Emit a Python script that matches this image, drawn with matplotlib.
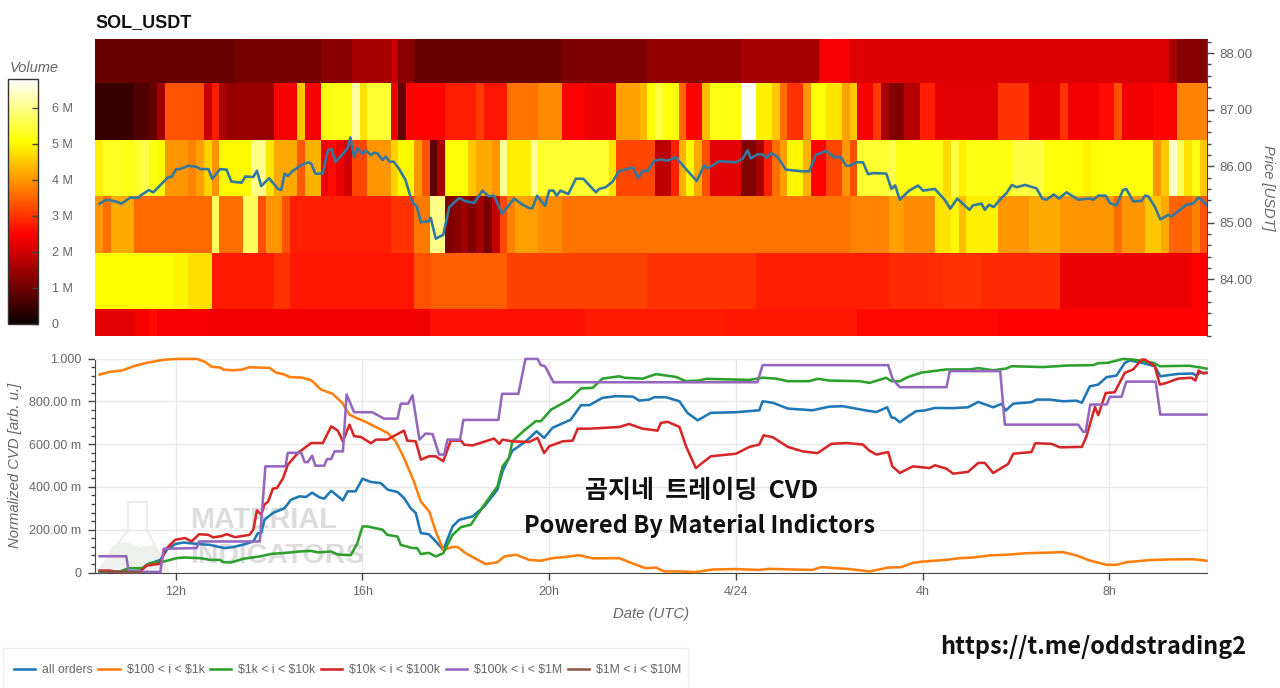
import numpy as np
import matplotlib
matplotlib.use('Agg')
import matplotlib.pyplot as plt
from matplotlib.lines import Line2D
from matplotlib.patches import Polygon, Rectangle
from matplotlib.ticker import MultipleLocator

W, H = 1280, 688

# heatmap: volume per 10 min bin, stored as runs (bin count, volume in M) per price band
BIN_START = 10.27
BIN_HOURS = 1 / 6
N_BINS = 143
PRICE_EDGES = [83.0, 83.47, 84.47, 85.47, 86.47, 87.47, 88.25]

band_83_runs = [5, 2, 1, 7, 28, 20, 18, 17, 18, 27]
band_83_vol = [2.2, 2.4, 2.6, 2.4, 2.35, 2.65, 2.75, 2.7, 2.55, 2.5]

band_84_runs = [10, 2, 3, 8, 2, 16, 2, 10, 18, 14, 17, 7, 5, 10, 17, 2]
band_84_vol = [5.05, 4.95, 4.75, 2.75, 3.0, 2.7, 3.3, 3.45, 3.15, 3.0, 2.8, 2.9, 3.0, 2.9, 2.3, 2.45]

band_85_runs = [1, 1, 3, 10, 1, 3, 2, 1, 2, 1, 13, 3, 2, 2, 1, 1, 1, 1, 1, 1, 1, 1, 1, 3, 3, 37,
                5, 2, 4, 2, 1, 1, 4, 4, 4, 7, 1, 3, 2, 1, 3, 1, 1]
band_85_vol = [4.0, 3.6, 4.2, 3.55, 5.7, 3.6, 5.7, 3.3, 4.0, 3.3, 2.8, 3.0, 3.7, 6.0, 1.2, 1.3, 1.5, 1.2, 1.5, 1.1,
               1.9, 3.2, 3.8, 4.1, 3.9, 3.65, 3.8, 4.1, 3.9, 4.8, 5.0, 4.4, 4.9, 4.0, 4.2, 4.0, 3.6, 4.0, 4.5, 4.2,
               3.5, 3.8, 3.3]

band_86_runs = [1, 3, 1, 1, 1, 1, 1,
                3, 1, 1, 1, 1,
                4, 2, 1, 3, 1, 2,
                1, 1, 1, 1, 2, 3, 1, 2, 1, 1,
                1, 1, 3, 1, 2, 1, 1, 3, 1, 9, 1,
                5, 2, 1, 1, 1, 1, 1, 4, 2, 1, 1, 1, 1, 2, 1, 2, 2, 1, 1,
                4, 1, 6, 1, 1, 1, 6, 4, 5, 1, 8,
                1, 1, 1, 1, 1, 1, 1]
band_86_vol = [4.9, 5.3, 5.2, 5.4, 5.6, 5.2, 5.0,
               4.0, 3.8, 4.1, 4.6, 4.0,
               5.0, 6.0, 4.8, 4.2, 3.4, 4.3,
               2.3, 2.6, 2.3, 2.0, 3.2, 4.0, 4.6, 5.0, 4.0, 3.3,
               0.9, 1.6, 5.1, 4.5, 4.2, 4.0, 6.1, 4.9, 6.1, 5.4, 4.8,
               3.2, 1.8, 2.8, 4.3, 5.0, 4.2, 3.3, 2.2, 1.2, 1.6, 2.8, 3.6, 4.1, 5.0, 4.3, 2.5, 3.2, 4.0, 3.3,
               5.4, 5.6, 5.2, 4.7, 5.5, 4.9, 5.2, 5.5, 5.1, 4.9, 5.1,
               4.0, 4.5, 6.4, 5.7, 4.8, 5.2, 4.5]

band_87_runs = [5, 2, 1, 1, 5, 1, 1, 1, 6, 3, 1, 2, 4, 1, 1, 3, 1, 1, 5, 4, 1, 3, 4, 3, 3, 4, 3, 1, 1, 1, 2, 1, 2,
                1, 4, 2, 2, 1, 1, 2, 1, 2, 2, 1, 1, 2, 1, 1, 2, 2, 2, 8, 4, 4, 1, 4, 2, 1, 4, 3, 4]
band_87_vol = [0.5, 0.7, 0.95, 1.5, 3.3, 1.95, 2.8, 1.6, 1.45, 2.4, 4.5, 2.4, 5.2, 6.2, 4.8, 5.4, 2.3, 0.95, 2.5, 2.8,
               3.1, 2.7, 3.65, 3.9, 2.45, 2.3, 4.1, 4.35, 5.1, 5.5, 5.1, 3.5, 2.5, 4.4, 5.2, 6.8, 4.9, 4.5, 3.6, 3.0,
               4.0, 5.1, 4.8, 4.1, 4.5, 2.4, 3.1, 1.6, 1.2, 1.75, 2.8, 2.2, 3.0, 2.25, 3.0, 2.35, 2.6, 3.3, 2.35, 2.5, 3.8]

band_88_runs = [18, 11, 4, 5, 1, 2, 19, 11, 12, 10, 4, 41, 1, 4]
band_88_vol = [0.95, 1.1, 1.3, 1.6, 1.9, 1.3, 0.97, 1.15, 1.4, 1.6, 2.4, 2.15, 1.6, 1.25]

# price line
price_t = [10.37, 10.52, 10.7, 10.84, 11.03, 11.17, 11.42, 11.52, 11.84, 11.91, 12.01, 12.09, 12.27, 12.45, 12.52,
           12.7, 12.78, 12.95, 13.09, 13.19, 13.41, 13.49, 13.66, 13.74, 13.83, 14.0, 14.19, 14.26, 14.33, 14.4,
           14.51, 14.69, 14.83, 14.9, 14.99, 15.15, 15.26, 15.34, 15.42, 15.58, 15.68, 15.74, 15.82, 15.89, 16.0,
           16.07, 16.18, 16.25, 16.32, 16.43, 16.5, 16.58, 16.67, 16.78, 16.92, 17.07, 17.16, 17.25, 17.42, 17.46,
           17.57, 17.73, 17.86, 18.07, 18.18, 18.39, 18.57, 18.7, 18.82, 18.99, 19.25, 19.43, 19.57, 19.64, 19.74,
           19.91, 20.0, 20.09, 20.16, 20.24, 20.41, 20.57, 20.73, 21.0, 21.07, 21.21, 21.36, 21.49, 21.79, 21.91,
           22.0, 22.11, 22.25, 22.39, 22.54, 22.71, 22.93, 23.16, 23.32, 23.39, 23.64, 24.0, 24.14, 24.25, 24.32,
           24.46, 24.57, 24.66, 24.75, 24.89, 25.07, 25.43, 25.57, 25.71, 25.93, 26.11, 26.25, 26.36, 26.44, 26.58,
           26.72, 26.83, 26.94, 27.22, 27.33, 27.41, 27.51, 27.71, 27.9, 28.01, 28.26, 28.47, 28.59, 28.74, 29.0,
           29.08, 29.26, 29.33, 29.42, 29.52, 29.69, 29.79, 29.91, 30.01, 30.19, 30.44, 30.56, 30.65, 30.81, 30.92,
           31.08, 31.33, 31.58, 31.66, 31.76, 31.92, 32.01, 32.15, 32.29, 32.36, 32.51, 32.69, 32.76, 32.83, 32.97,
           33.09, 33.26, 33.33, 33.51, 33.65, 33.79, 33.91, 34.08]
price_v = [85.34, 85.41, 85.38, 85.34, 85.45, 85.44, 85.58, 85.54, 85.81, 85.81, 85.95, 85.95, 86.01, 85.99, 85.95,
           85.95, 85.78, 85.95, 85.94, 85.73, 85.71, 85.82, 85.81, 85.92, 85.65, 85.79, 85.6, 85.58, 85.87, 85.83,
           85.92, 86.02, 86.07, 86.05, 85.87, 85.87, 86.29, 86.3, 86.08, 86.22, 86.32, 86.51, 86.17, 86.32, 86.22,
           86.28, 86.2, 86.24, 86.23, 86.11, 86.17, 86.08, 86.08, 85.96, 85.76, 85.35, 85.3, 85.01, 85.03, 85.09,
           84.72, 84.79, 85.28, 85.44, 85.39, 85.35, 85.57, 85.47, 85.48, 85.16, 85.43, 85.32, 85.26, 85.26, 85.48,
           85.3, 85.57, 85.57, 85.48, 85.57, 85.51, 85.78, 85.78, 85.54, 85.6, 85.63, 85.73, 85.91, 85.98, 85.79,
           85.92, 85.92, 86.1, 86.12, 86.1, 86.16, 85.95, 85.74, 86.02, 85.96, 86.09, 86.07, 86.13, 86.28, 86.14,
           86.21, 86.21, 86.15, 86.23, 86.17, 85.94, 85.91, 85.91, 86.2, 86.27, 86.16, 86.16, 86.01, 86.01, 86.07,
           86.07, 85.86, 85.88, 85.87, 85.6, 85.66, 85.41, 85.57, 85.66, 85.57, 85.6, 85.41, 85.25, 85.43, 85.23,
           85.31, 85.34, 85.23, 85.32, 85.28, 85.44, 85.52, 85.67, 85.63, 85.67, 85.61, 85.43, 85.41, 85.5, 85.43,
           85.54, 85.41, 85.43, 85.41, 85.48, 85.48, 85.35, 85.31, 85.58, 85.6, 85.38, 85.39, 85.48, 85.47, 85.29,
           85.06, 85.14, 85.11, 85.23, 85.32, 85.34, 85.45, 85.32]

# normalized cvd lines
all_t = [10.37, 11.24, 11.38, 11.67, 11.81, 11.99, 12.16, 12.45, 12.73, 12.87, 13.05, 13.23, 13.51, 13.66, 13.76,
         13.83, 13.9, 14.08, 14.33, 14.47, 14.65, 14.79, 14.92, 15.08, 15.18, 15.33, 15.58, 15.68, 15.85, 16.0,
         16.18, 16.39, 16.54, 16.75, 16.89, 17.03, 17.14, 17.25, 17.42, 17.57, 17.73, 17.93, 18.07, 18.36, 18.61,
         18.89, 19.0, 19.21, 19.5, 19.73, 19.89, 20.07, 20.46, 20.68, 20.86, 21.14, 21.43, 21.79, 21.93, 22.14,
         22.25, 22.5, 22.79, 22.96, 23.18, 23.46, 24.0, 24.5, 24.57, 24.79, 25.11, 25.64, 26.0, 26.29, 26.79,
         27.01, 27.24, 27.33, 27.4, 27.51, 27.69, 27.86, 28.04, 28.26, 28.65, 28.97, 29.19, 29.51, 29.69, 29.78,
         29.94, 30.33, 30.44, 30.72, 31.01, 31.29, 31.41, 31.58, 31.76, 31.94, 32.15, 32.33, 32.44, 32.69, 32.97,
         33.09, 33.47, 33.79, 33.86, 33.94, 34.08]
all_v = [0.002, 0.008, 0.036, 0.059, 0.106, 0.133, 0.14, 0.134, 0.129, 0.122, 0.114, 0.119, 0.134, 0.145, 0.184,
         0.184, 0.246, 0.278, 0.301, 0.34, 0.356, 0.353, 0.373, 0.351, 0.345, 0.382, 0.337, 0.379, 0.379, 0.438,
         0.423, 0.418, 0.387, 0.376, 0.348, 0.301, 0.278, 0.184, 0.179, 0.145, 0.106, 0.215, 0.246, 0.262, 0.309,
         0.387, 0.473, 0.569, 0.613, 0.66, 0.629, 0.676, 0.714, 0.782, 0.782, 0.816, 0.824, 0.822, 0.803, 0.808,
         0.819, 0.819, 0.8, 0.746, 0.711, 0.746, 0.749, 0.758, 0.8, 0.793, 0.766, 0.758, 0.775, 0.777, 0.757,
         0.75, 0.772, 0.725, 0.722, 0.702, 0.73, 0.754, 0.757, 0.769, 0.768, 0.772, 0.797, 0.772, 0.788, 0.757,
         0.789, 0.796, 0.808, 0.808, 0.8, 0.803, 0.793, 0.87, 0.878, 0.913, 0.92, 0.98, 0.991, 0.98, 0.964,
         0.917, 0.928, 0.93, 0.92, 0.933, 0.933]

o100_t = [10.37, 10.6, 10.85, 11.1, 11.38, 11.74, 12.0, 12.45, 12.63, 12.77, 12.95, 13.02, 13.23, 13.41, 13.58,
          14.01, 14.15, 14.33, 14.44, 14.69, 14.9, 15.11, 15.36, 15.57, 15.72, 15.9, 16.04, 16.29, 16.54, 16.71,
          16.89, 17.1, 17.25, 17.43, 17.57, 17.73, 17.93, 18.04, 18.21, 18.43, 18.64, 18.89, 19.04, 19.29, 19.57,
          19.82, 20.07, 20.36, 20.64, 20.93, 21.5, 21.86, 22.07, 22.29, 22.46, 22.79, 23.14, 23.5, 24.0, 24.5,
          24.71, 25.21, 25.64, 25.82, 26.44, 26.86, 27.26, 27.54, 27.79, 28.0, 28.5, 28.79, 29.08, 29.44, 29.79,
          30.22, 31.01, 31.29, 31.58, 31.94, 32.15, 32.36, 32.86, 33.29, 33.79, 34.08]
o100_v = [0.925, 0.938, 0.944, 0.964, 0.98, 0.994, 0.998, 0.998, 0.984, 0.961, 0.958, 0.948, 0.945, 0.948, 0.959,
          0.956, 0.934, 0.925, 0.913, 0.911, 0.899, 0.855, 0.835, 0.792, 0.738, 0.719, 0.707, 0.679, 0.652, 0.613,
          0.535, 0.426, 0.332, 0.285, 0.192, 0.106, 0.119, 0.119, 0.09, 0.064, 0.039, 0.048, 0.075, 0.083, 0.059,
          0.055, 0.067, 0.073, 0.081, 0.066, 0.067, 0.036, 0.02, 0.023, 0.005, 0.005, 0.002, 0.014, 0.016, 0.012,
          0.017, 0.014, 0.012, 0.025, 0.016, 0.005, 0.023, 0.025, 0.045, 0.051, 0.059, 0.067, 0.07, 0.08, 0.083,
          0.09, 0.095, 0.08, 0.056, 0.036, 0.036, 0.048, 0.058, 0.061, 0.062, 0.055]

o1k_t = [10.37, 10.81, 10.99, 11.27, 11.45, 11.74, 12.02, 12.2, 12.52, 12.73, 12.95, 13.02, 13.19, 13.44, 13.8,
         14.05, 14.37, 14.65, 14.9, 15.04, 15.33, 15.47, 15.75, 15.89, 16.0, 16.11, 16.43, 16.53, 16.75, 16.82,
         17.07, 17.17, 17.25, 17.42, 17.57, 17.73, 17.93, 18.11, 18.32, 18.61, 18.89, 19.0, 19.14, 19.21, 19.46,
         19.71, 19.82, 20.04, 20.43, 20.68, 20.93, 21.14, 21.5, 21.61, 22.0, 22.29, 22.71, 22.93, 23.21, 23.36,
         24.29, 24.57, 24.86, 25.11, 25.57, 25.75, 26.0, 26.65, 26.86, 27.22, 27.33, 27.51, 27.69, 27.97, 28.51,
         29.01, 29.19, 29.51, 29.79, 29.9, 30.58, 31.08, 31.65, 31.76, 31.97, 32.29, 32.51, 32.94, 33.08, 33.72, 34.08]
o1k_v = [0.002, 0.005, 0.02, 0.02, 0.044, 0.051, 0.067, 0.07, 0.067, 0.059, 0.059, 0.048, 0.047, 0.064, 0.075,
         0.087, 0.092, 0.098, 0.101, 0.094, 0.098, 0.084, 0.081, 0.137, 0.215, 0.215, 0.2, 0.176, 0.168, 0.129,
         0.114, 0.114, 0.086, 0.092, 0.075, 0.09, 0.176, 0.212, 0.223, 0.317, 0.402, 0.496, 0.535, 0.613, 0.663,
         0.707, 0.707, 0.761, 0.808, 0.86, 0.863, 0.906, 0.917, 0.91, 0.906, 0.927, 0.914, 0.894, 0.897, 0.905,
         0.9, 0.91, 0.906, 0.894, 0.894, 0.905, 0.897, 0.894, 0.886, 0.91, 0.894, 0.894, 0.914, 0.934, 0.949,
         0.949, 0.955, 0.945, 0.953, 0.964, 0.96, 0.967, 0.969, 0.978, 0.98, 0.998, 0.995, 0.98, 0.964, 0.966, 0.953]

o10k_t = [10.37, 10.6, 10.74, 11.24, 11.38, 11.67, 11.77, 11.99, 12.2, 12.34, 12.5, 12.7, 12.8, 12.98, 13.09,
          13.27, 13.58, 13.66, 13.74, 13.83, 13.9, 13.98, 14.08, 14.17, 14.3, 14.4, 14.62, 14.9, 15.15, 15.33,
          15.47, 15.58, 15.72, 15.82, 15.97, 16.18, 16.29, 16.53, 16.89, 16.96, 17.14, 17.25, 17.42, 17.57, 17.73,
          17.89, 18.11, 18.18, 18.36, 18.82, 18.93, 19.0, 19.21, 19.57, 19.75, 19.89, 20.0, 20.29, 20.5, 20.61,
          20.86, 21.5, 21.71, 22.0, 22.32, 22.39, 22.54, 22.79, 22.93, 23.14, 23.46, 24.0, 24.29, 24.5, 24.59,
          24.79, 25.11, 25.43, 25.75, 26.04, 26.36, 26.72, 26.86, 27.01, 27.26, 27.35, 27.51, 27.79, 28.15, 28.26,
          28.51, 28.65, 28.97, 29.19, 29.33, 29.51, 29.83, 29.94, 30.33, 30.41, 30.76, 30.94, 31.41, 31.51, 31.69,
          31.76, 31.92, 32.11, 32.33, 32.51, 32.69, 32.76, 32.97, 33.08, 33.22, 33.47, 33.76, 33.84, 33.91, 34.01, 34.08]
o10k_v = [0.009, 0.009, 0.002, 0.005, 0.033, 0.041, 0.106, 0.153, 0.161, 0.145, 0.179, 0.176, 0.164, 0.17, 0.179,
          0.165, 0.176, 0.2, 0.29, 0.27, 0.317, 0.332, 0.392, 0.395, 0.441, 0.504, 0.559, 0.605, 0.605, 0.683,
          0.663, 0.613, 0.691, 0.637, 0.633, 0.604, 0.621, 0.621, 0.663, 0.616, 0.613, 0.527, 0.543, 0.543, 0.52,
          0.616, 0.616, 0.597, 0.594, 0.626, 0.601, 0.621, 0.613, 0.61, 0.629, 0.558, 0.59, 0.613, 0.616, 0.672,
          0.672, 0.68, 0.694, 0.672, 0.663, 0.699, 0.704, 0.68, 0.59, 0.488, 0.543, 0.555, 0.587, 0.598, 0.641,
          0.632, 0.587, 0.566, 0.558, 0.601, 0.605, 0.598, 0.569, 0.551, 0.563, 0.496, 0.465, 0.496, 0.488, 0.501,
          0.485, 0.462, 0.47, 0.512, 0.512, 0.465, 0.507, 0.555, 0.563, 0.604, 0.601, 0.585, 0.587, 0.637, 0.774,
          0.735, 0.839, 0.842, 0.933, 0.949, 0.995, 0.995, 0.964, 0.878, 0.886, 0.906, 0.91, 0.897, 0.944, 0.93, 0.933]

o100k_t = [10.37, 10.94, 10.99, 11.67, 11.74, 12.45, 12.5, 13.8, 13.92, 14.35, 14.4, 14.69, 14.76, 14.83, 14.92,
           14.99, 15.18, 15.24, 15.33, 15.4, 15.58, 15.66, 15.82, 16.21, 16.46, 16.75, 16.82, 16.98, 17.07, 17.22,
           17.35, 17.5, 17.64, 17.75, 17.82, 18.09, 18.16, 18.91, 18.99, 19.34, 19.49, 19.75, 19.82, 19.91, 20.09,
           24.46, 24.57, 27.26, 27.36, 27.51, 28.51, 28.58, 29.66, 29.76, 31.33, 31.44, 31.49, 31.59, 31.94, 32.01,
           32.26, 32.36, 32.99, 33.09, 34.08]
o100k_v = [0.076, 0.076, 0.005, 0.002, 0.111, 0.114, 0.145, 0.145, 0.496, 0.496, 0.559, 0.559, 0.516, 0.516, 0.546,
           0.499, 0.499, 0.53, 0.53, 0.566, 0.566, 0.832, 0.749, 0.749, 0.719, 0.719, 0.789, 0.789, 0.828, 0.621,
           0.649, 0.647, 0.551, 0.551, 0.621, 0.621, 0.713, 0.713, 0.835, 0.835, 0.998, 0.998, 0.969, 0.964, 0.889,
           0.889, 0.969, 0.969, 0.902, 0.866, 0.866, 0.941, 0.941, 0.691, 0.691, 0.657, 0.657, 0.785, 0.785, 0.821,
           0.821, 0.892, 0.892, 0.738, 0.738]

o1m_t = [10.37, 10.8, 11.25]
o1m_v = [0.005, 0.002, 0.0]

series = [
    ('all orders', all_t, all_v, '#1f77b4'),
    ('$100 < i < $1k', o100_t, o100_v, '#ff7f0e'),
    ('$1k < i < $10k', o1k_t, o1k_v, '#2ca02c'),
    ('$10k < i < $100k', o10k_t, o10k_v, '#d62728'),
    ('$100k < i < $1M', o100k_t, o100k_v, '#9467bd'),
    ('$1M < i < $10M', o1m_t, o1m_v, '#8c564b'),
]

time_ticks = [12, 16, 20, 24, 28, 32]
time_labels = ['12h', '16h', '20h', '4/24', '4h', '8h']
cvd_ticks = [0, 0.2, 0.4, 0.6, 0.8, 1.0]
cvd_labels = ['0', '200.00 m', '400.00 m', '600.00 m', '800.00 m', '1.000']
price_ticks = [84, 85, 86, 87, 88]
vol_ticks = [0, 1, 2, 3, 4, 5, 6]
vol_labels = ['0', '1 M', '2 M', '3 M', '4 M', '5 M', '6 M']

GREY = '#666666'
AXIS = '#444444'
GRID = '#e8e8e8'

plt.rcParams['font.family'] = ['Liberation Sans', 'DejaVu Sans']
plt.rcParams['font.size'] = 9


def px_axes(fig, left, top, right, bottom):
    return fig.add_axes([left / W, 1 - bottom / H, (right - left) / W, (bottom - top) / H])


def fx(px):
    return px / W


def fy(px):
    return 1 - px / H


fig = plt.figure(figsize=(W / 100, H / 100), dpi=100)

# heatmap panel
heat_ax = px_axes(fig, 95, 39, 1207, 336)
bands = [
    (band_83_runs, band_83_vol),
    (band_84_runs, band_84_vol),
    (band_85_runs, band_85_vol),
    (band_86_runs, band_86_vol),
    (band_87_runs, band_87_vol),
    (band_88_runs, band_88_vol),
]
rows = []
for runs, vals in bands:
    assert len(runs) == len(vals) and sum(runs) == N_BINS, (len(runs), len(vals), sum(runs))
    rows.append(np.repeat(vals, runs))
bin_edges = BIN_START + np.arange(N_BINS + 1) * BIN_HOURS
mesh = heat_ax.pcolormesh(bin_edges, PRICE_EDGES, np.array(rows), cmap='hot', vmin=0, vmax=6.8,
                          shading='flat', antialiased=False, rasterized=True)
heat_ax.plot(price_t, price_v, color='#33789f', lw=1.9, solid_joinstyle='round')
heat_ax.set_xlim(10.27, 34.09)
heat_ax.set_ylim(83.0, 88.25)
heat_ax.set_xticks([])
heat_ax.yaxis.tick_right()
heat_ax.yaxis.set_label_position('right')
heat_ax.set_yticks(price_ticks)
heat_ax.set_yticklabels([f'{p:.2f}' for p in price_ticks])
heat_ax.yaxis.set_minor_locator(MultipleLocator(0.2))
heat_ax.tick_params(axis='y', which='major', direction='out', length=5, width=1, color=AXIS,
                    labelcolor=GREY, labelsize=9.5, pad=4)
heat_ax.tick_params(axis='y', which='minor', direction='out', length=3, width=1, color=AXIS)
for name, spine in heat_ax.spines.items():
    spine.set_visible(name == 'right')
    spine.set_color(AXIS)
heat_ax.set_ylabel('Price [USDT]', rotation=-90, style='italic', color=GREY, fontsize=10.5, labelpad=16)

fig.text(fx(95), fy(22.5), 'SOL_USDT', fontsize=13, fontweight='bold', color='#111111', va='center')

# colour bar
cax = px_axes(fig, 8, 79, 38, 324)
cb = fig.colorbar(mesh, cax=cax)
cb.set_ticks(vol_ticks)
cb.set_ticklabels(vol_labels)
cb.minorticks_off()
cb.outline.set_edgecolor('#333333')
cb.outline.set_linewidth(1)
cax.tick_params(axis='y', direction='in', length=4, width=1, color=AXIS, labelcolor=GREY, labelsize=9, pad=10)
fig.text(fx(10), fy(68), 'Volume', style='italic', fontsize=10.5, color=GREY, va='center')

# cvd panel
cvd_ax = px_axes(fig, 95, 358.5, 1207, 572.5)
cvd_ax.set_xlim(10.27, 34.09)
cvd_ax.set_ylim(0, 1.0)

# watermark sits under the lines
mark = '#dcdcdc'
flask = [(128, 502), (147, 502), (147, 530), (168, 571), (98, 571), (128, 530)]
cvd_ax.add_patch(Polygon([(fx(x), fy(y)) for x, y in flask], closed=True, fill=False, ec='#ececec', lw=1.5,
                         transform=fig.transFigure, clip_on=False, zorder=0.5))
liquid = [(113, 545), (125, 542), (140, 547), (155, 544), (166, 569), (100, 569)]
cvd_ax.add_patch(Polygon([(fx(x), fy(y)) for x, y in liquid], closed=True, fc='#eef0ee', ec='none',
                         transform=fig.transFigure, clip_on=False, zorder=0.5))
cvd_ax.text(fx(190), fy(520), 'MATERIAL', transform=fig.transFigure, fontsize=20.8, fontweight='bold',
            color=mark, va='center', zorder=0.6)
cvd_ax.text(fx(190), fy(556), 'INDICATORS', transform=fig.transFigure, fontsize=20.5, fontweight='bold',
            color=mark, va='center', zorder=0.6)

handles = []
for label, t, v, color in series:
    cvd_ax.plot(t, v, color=color, lw=1.85, solid_joinstyle='round', clip_on=False, zorder=3)
    handles.append(Line2D([], [], color=color, lw=1.85, label=label.replace('$', r'\$')))

cvd_ax.set_xticks(time_ticks)
cvd_ax.set_xticklabels(time_labels)
cvd_ax.set_yticks(cvd_ticks)
cvd_ax.set_yticklabels(cvd_labels)
cvd_ax.yaxis.set_minor_locator(MultipleLocator(0.04))
cvd_ax.grid(True, which='major', color=GRID, lw=1)
cvd_ax.set_axisbelow(True)
cvd_ax.tick_params(axis='both', which='major', direction='out', length=5, width=1, color=AXIS,
                   labelcolor=GREY, labelsize=9, pad=5)
cvd_ax.tick_params(axis='y', which='minor', direction='out', length=3, width=1, color=AXIS)
cvd_ax.spines['left'].set_color(AXIS)
cvd_ax.spines['bottom'].set_color(AXIS)
cvd_ax.spines['top'].set_color(GRID)
cvd_ax.spines['right'].set_color(GRID)
cvd_ax.set_ylabel('Normalized CVD [arb. u.]', style='italic', color=GREY, fontsize=10.7, labelpad=5)
cvd_ax.set_xlabel('Date (UTC)', style='italic', color=GREY, fontsize=10.7, labelpad=6)

# legend box runs off the bottom of the picture
fig.add_artist(Rectangle((fx(3), fy(692)), (688 - 3) / W, (692 - 648) / H, transform=fig.transFigure,
                         fill=False, ec='#eeeeee', lw=1))
fig.legend(handles=handles, loc='center left', bbox_to_anchor=(fx(14), fy(670)), ncol=6, fontsize=8.8,
           frameon=False, labelcolor=GREY, handlelength=1.75, handletextpad=0.55, columnspacing=0.46,
           borderpad=0, borderaxespad=0)

# overlay captions
cjk = ['Noto Sans CJK KR', 'DejaVu Sans']
fig.text(fx(702), fy(491), '곰지네  트레이딩  CVD', family=cjk, fontsize=18, fontweight='bold', color='#111111',
         ha='center', va='center', zorder=10)
fig.text(fx(699), fy(526), 'Powered By Material Indictors', family=cjk, fontsize=17, fontweight='bold',
         color='#111111', ha='center', va='center', zorder=10)
fig.text(fx(1093), fy(647), 'https://t.me/oddstrading2', family=cjk, fontsize=16.9, fontweight='bold',
         color='#111111', ha='center', va='center', zorder=10)

fig.savefig('out.png', dpi=100, facecolor='white')
